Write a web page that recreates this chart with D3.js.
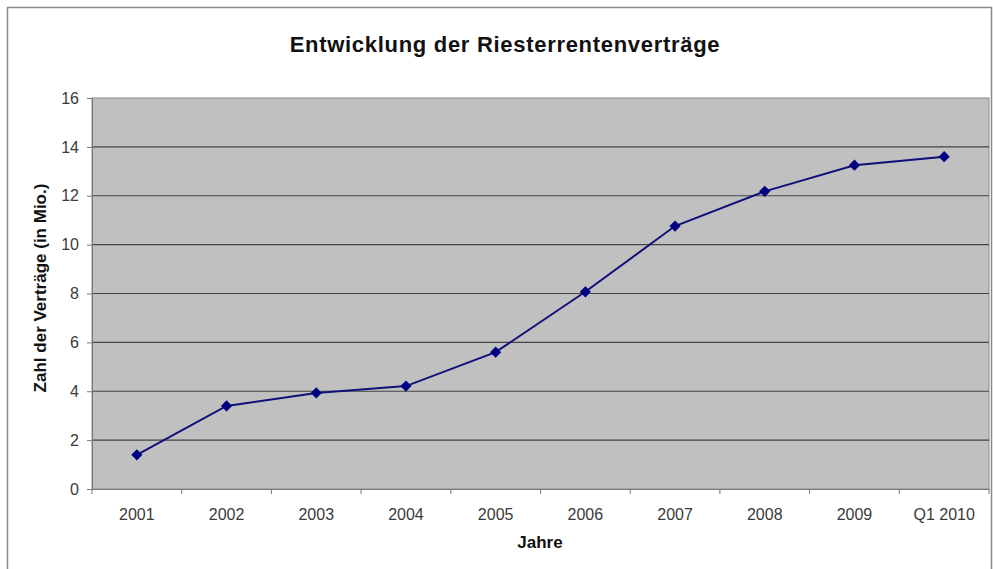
<html>
<head>
<meta charset="utf-8">
<script src="https://cdn.jsdelivr.net/npm/d3@7"></script>
<style>
  body { margin: 0; background: #fff; }
  text { font-family: "Liberation Sans", Arial, sans-serif; }
  .tick text { fill: #3a3a3a; font-size: 16px; }
</style>
</head>
<body>
<script>
var years = ['2001','2002','2003','2004','2005','2006','2007','2008','2009','Q1 2010'];
var vertraege = [1.4, 3.4, 3.93, 4.21, 5.6, 8.07, 10.76, 12.18, 13.25, 13.6];
var yTicks = [0, 2, 4, 6, 8, 10, 12, 14, 16];

var W = 993, H = 569;
var margin = { top: 98, right: 4, bottom: 80, left: 92 };
var width = 989 - margin.left;
var height = 489 - margin.top;

var svg = d3.select('body').append('svg')
  .attr('width', W).attr('height', H);

// outer frame
svg.append('rect')
  .attr('x', 7.5).attr('y', 7.5)
  .attr('width', 984).attr('height', 600)
  .attr('fill', 'white')
  .attr('stroke', '#8a8a8a').attr('stroke-width', 1.5);

var g = svg.append('g')
  .attr('transform', 'translate(' + margin.left + ',' + margin.top + ')');

var x = d3.scaleBand().domain(years).range([0, width]);
var y = d3.scaleLinear().domain([0, 16]).range([height, 0]);

g.append('rect')
  .attr('width', width).attr('height', height)
  .attr('fill', '#c0c0c0')
  .attr('stroke', '#8c8c8c').attr('stroke-width', 1);

// gridlines
g.selectAll('.grid')
  .data(yTicks.filter(function(d) { return d > 0 && d < 16; }))
  .enter().append('line')
  .attr('x1', 0).attr('x2', width)
  .attr('y1', function(d) { return y(d); })
  .attr('y2', function(d) { return y(d); })
  .attr('stroke', '#444').attr('stroke-width', 1.2);

var yAxis = g.append('g')
  .call(d3.axisLeft(y).tickValues(yTicks).tickSize(5).tickPadding(8));
yAxis.select('.domain').attr('stroke', '#777');
yAxis.selectAll('.tick line').attr('stroke', '#777');

var xAxis = g.append('g')
  .attr('transform', 'translate(0,' + height + ')')
  .call(d3.axisBottom(x).tickSize(0).tickPadding(20));
xAxis.select('.domain').attr('stroke', '#777');
// tick marks between categories
xAxis.selectAll('.sep')
  .data(d3.range(years.length + 1))
  .enter().append('line')
  .attr('x1', function(i) { return i * x.step(); })
  .attr('x2', function(i) { return i * x.step(); })
  .attr('y1', 0).attr('y2', 5)
  .attr('stroke', '#777');

var line = d3.line()
  .x(function(d, i) { return x(years[i]) + x.bandwidth() / 2; })
  .y(function(d) { return y(d); });

g.append('path')
  .datum(vertraege)
  .attr('d', line)
  .attr('fill', 'none')
  .attr('stroke', '#10107a').attr('stroke-width', 2);

g.selectAll('.pt')
  .data(vertraege)
  .enter().append('path')
  .attr('d', d3.symbol().type(d3.symbolDiamond2).size(80))
  .attr('transform', function(d, i) {
    return 'translate(' + (x(years[i]) + x.bandwidth() / 2) + ',' + y(d) + ')';
  })
  .attr('fill', '#000080');

svg.append('text')
  .attr('x', 505).attr('y', 52)
  .attr('text-anchor', 'middle')
  .style('font-size', '22px').style('font-weight', 'bold')
  .style('letter-spacing', '0.7px')
  .attr('fill', '#111')
  .text('Entwicklung der Riesterrentenverträge');

svg.append('text')
  .attr('transform', 'translate(46,288) rotate(-90)')
  .attr('text-anchor', 'middle')
  .style('font-size', '17px').style('font-weight', 'bold')
  .attr('fill', '#111')
  .text('Zahl der Verträge (in Mio.)');

svg.append('text')
  .attr('x', 540).attr('y', 548)
  .attr('text-anchor', 'middle')
  .style('font-size', '17px').style('font-weight', 'bold')
  .attr('fill', '#111')
  .text('Jahre');
</script>
</body>
</html>
